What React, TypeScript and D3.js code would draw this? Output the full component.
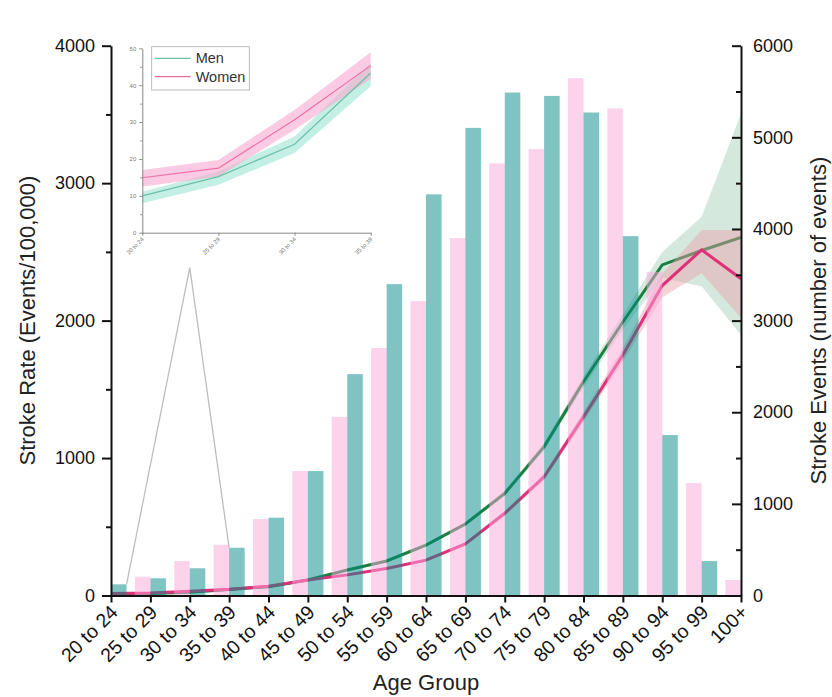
import { useEffect, useRef } from "react";
import * as d3 from "d3";

const ageGroups = [
  "20 to 24", "25 to 29", "30 to 34", "35 to 39", "40 to 44", "45 to 49",
  "50 to 54", "55 to 59", "60 to 64", "65 to 69", "70 to 74", "75 to 79",
  "80 to 84", "85 to 89", "90 to 94", "95 to 99", "100+",
];

// stroke events (right axis)
const menEvents = [122, 188, 297, 521, 849, 1358, 2416, 3398, 4378, 5103, 5489, 5452, 5271, 3922, 1751, 376, 60];
const womenEvents = [150, 205, 376, 554, 834, 1358, 1950, 2700, 3213, 3900, 4715, 4871, 5645, 5315, 3532, 1227, 169];

// stroke rate per 100,000 (left axis) with confidence band
const menRate = [10, 15.2, 24, 43.3, 64, 113, 185, 251, 367, 520, 743, 1083, 1555, 1990, 2405, 2510, 2605];
const menRateLow = [8, 13, 21.6, 39.7, 60, 107, 177, 242, 355, 505, 722, 1055, 1515, 1935, 2310, 2250, 1895];
const menRateHigh = [11.1, 16.6, 26.1, 46, 68, 119, 193, 260, 379, 535, 764, 1111, 1595, 2045, 2500, 2755, 3507];
const womenRate = [14.9, 17.5, 30.6, 45.3, 68, 113, 150, 197, 257, 375, 598, 864, 1300, 1750, 2255, 2515, 2305];
const womenRateLow = [12.5, 15.2, 27.9, 41.7, 63, 106, 142, 188, 247, 362, 580, 840, 1265, 1700, 2170, 2345, 2020];
const womenRateHigh = [17, 19.7, 33.3, 48.9, 73, 120, 158, 206, 267, 388, 616, 888, 1335, 1800, 2340, 2660, 2660];

const rateTicks = [0, 1000, 2000, 3000, 4000];
const rateMinor = [500, 1500, 2500, 3500];
const eventTicks = [0, 1000, 2000, 3000, 4000, 5000, 6000];
const eventMinor = [500, 1500, 2500, 3500, 4500, 5500];
const insetTicks = [0, 10, 20, 30, 40, 50];
const insetMinor = [5, 15, 25, 35, 45];
const seriesNames = ["Men", "Women"];

const FONT = "Arial, 'Liberation Sans', sans-serif";

const App = () => {
  const chartRef = useRef<SVGSVGElement>(null);

  useEffect(() => {
    const svg = d3.select(chartRef.current);
    svg.selectAll("*").remove();

    const left = 111, right = 741, top = 45.7, bottom = 595.5;

    const x = d3.scalePoint<string>().domain(ageGroups).range([left, right]);
    const yL = d3.scaleLinear().domain([0, 4000]).range([bottom, top]);
    const yR = d3.scaleLinear().domain([0, 6000]).range([bottom, top]);
    const barW = x.step() * 0.395;
    const idx = ageGroups.map((_, i) => i);
    const px = (i: number) => x(ageGroups[i]) as number;
    const fmt = d3.format("d");

    svg.append("defs").append("clipPath").attr("id", "plotClip")
      .append("rect").attr("x", left).attr("y", 0).attr("width", right - left).attr("height", bottom);

    const plot = svg.append("g").attr("clip-path", "url(#plotClip)");

    const band = (lo: number[], hi: number[]) =>
      d3.area<number>().x(px).y0((i) => yL(lo[i])).y1((i) => yL(hi[i]));
    const line = (v: number[]) => d3.line<number>().x(px).y((i) => yL(v[i]));

    // men band + line, then women band + line
    plot.append("path").attr("d", band(menRateLow, menRateHigh)(idx))
      .attr("fill", "#2e8b57").attr("fill-opacity", 0.2);
    plot.append("path").attr("d", line(menRate)(idx))
      .attr("fill", "none").attr("stroke", "#1a7f3f").attr("stroke-width", 3);
    plot.append("path").attr("d", band(womenRateLow, womenRateHigh)(idx))
      .attr("fill", "#e8a0a8").attr("fill-opacity", 0.45);
    plot.append("path").attr("d", line(womenRate)(idx))
      .attr("fill", "none").attr("stroke", "#e0307a").attr("stroke-width", 3);

    // bars drawn semi-transparent on top
    plot.append("g").selectAll("rect").data(idx).join("rect")
      .attr("x", (i) => px(i) - barW)
      .attr("y", (i) => yR(womenEvents[i]))
      .attr("width", barW)
      .attr("height", (i) => yR(0) - yR(womenEvents[i]))
      .attr("fill", "#fba7d9").attr("fill-opacity", 0.5);
    plot.append("g").selectAll("rect").data(idx).join("rect")
      .attr("x", (i) => px(i))
      .attr("y", (i) => yR(menEvents[i]))
      .attr("width", barW)
      .attr("height", (i) => yR(0) - yR(menEvents[i]))
      .attr("fill", "#008985").attr("fill-opacity", 0.5);

    // inset scales
    const insetGroups = ageGroups.slice(0, 4);
    const ix = d3.scalePoint<string>().domain(insetGroups).range([142.3, 370.7]);
    const iy = d3.scaleLinear().domain([0, 50]).range([232.7, 48.3]);

    // callout lines from bars to inset
    const apex: [number, number] = [px(2), iy(0) + 35];
    svg.append("path")
      .attr("d", d3.line()([
        [px(0) + barW, yR(menEvents[0])],
        apex,
        [px(3), yR(menEvents[3])],
      ]))
      .attr("fill", "none").attr("stroke", "#bdbdbd").attr("stroke-width", 1.3);

    const styleAxis = (g: d3.Selection<SVGGElement, unknown, null, undefined>) => {
      g.attr("font-family", FONT).attr("font-size", 18);
      g.selectAll("line").attr("stroke", "#111").attr("stroke-width", 2);
      g.select(".domain").attr("stroke", "#111").attr("stroke-width", 2);
      g.selectAll("text").attr("fill", "#111");
    };

    // left axis
    svg.append("g").attr("transform", `translate(${left},0)`)
      .call(d3.axisLeft(yL).tickValues(rateTicks).tickFormat(fmt).tickSize(9).tickPadding(7).tickSizeOuter(0))
      .call(styleAxis);
    svg.append("g").attr("transform", `translate(${left},0)`)
      .call(d3.axisLeft(yL).tickValues(rateMinor).tickSize(5).tickFormat(() => ""))
      .call(styleAxis)
      .call((g) => g.select(".domain").remove());

    // right axis, ticks pointing inward
    svg.append("g").attr("transform", `translate(${right},0)`)
      .call(d3.axisRight(yR).tickValues(eventTicks).tickFormat(fmt).tickSize(-9).tickPadding(12).tickSizeOuter(0))
      .call(styleAxis);
    svg.append("g").attr("transform", `translate(${right},0)`)
      .call(d3.axisRight(yR).tickValues(eventMinor).tickSize(-5).tickFormat(() => ""))
      .call(styleAxis)
      .call((g) => g.select(".domain").remove());

    // bottom axis
    svg.append("g").attr("transform", `translate(0,${bottom})`)
      .call(d3.axisBottom(x).tickSize(7).tickFormat(() => "").tickSizeOuter(0))
      .call(styleAxis);
    svg.append("g").selectAll("text").data(ageGroups).join("text")
      .attr("transform", (d) => `translate(${(x(d) as number) + 8},${bottom + 18}) rotate(-45)`)
      .attr("text-anchor", "end")
      .attr("font-family", FONT).attr("font-size", 19.5).attr("fill", "#111")
      .text((d) => d);

    // axis titles
    const title = (t: string, tr: string) =>
      svg.append("text").attr("transform", tr).attr("text-anchor", "middle")
        .attr("font-family", FONT).attr("font-size", 22).attr("fill", "#222").text(t);
    title("Stroke Rate (Events/100,000)", `translate(35,${(top + bottom) / 2}) rotate(-90)`);
    title("Stroke Events (number of events)", `translate(826,${(top + bottom) / 2}) rotate(-90)`);
    title("Age Group", `translate(${(left + right) / 2},690)`);

    // ---- inset ----
    const inset = svg.append("g");
    const ii = insetGroups.map((_, i) => i);
    const ipx = (i: number) => ix(insetGroups[i]) as number;
    const iband = (lo: number[], hi: number[]) =>
      d3.area<number>().x(ipx).y0((i) => iy(lo[i])).y1((i) => iy(hi[i]));
    const iline = (v: number[]) => d3.line<number>().x(ipx).y((i) => iy(v[i]));

    inset.append("path").attr("d", iband(menRateLow, menRateHigh)(ii)).attr("fill", "#c4efe4");
    inset.append("path").attr("d", iband(womenRateLow, womenRateHigh)(ii))
      .attr("fill", "#f6a9cf").attr("fill-opacity", 0.6);
    inset.append("path").attr("d", iline(menRate)(ii))
      .attr("fill", "none").attr("stroke", "#6dbfa8").attr("stroke-width", 1.2);
    inset.append("path").attr("d", iline(womenRate)(ii))
      .attr("fill", "none").attr("stroke", "#ef6fa2").attr("stroke-width", 1.2);

    const styleInset = (g: d3.Selection<SVGGElement, unknown, null, undefined>) => {
      g.attr("font-family", FONT).attr("font-size", 6);
      g.selectAll("line").attr("stroke", "#888");
      g.select(".domain").attr("stroke", "#888");
      g.selectAll("text").attr("fill", "#777");
    };
    inset.append("g").attr("transform", `translate(${ix.range()[0]},0)`)
      .call(d3.axisLeft(iy).tickValues(insetTicks).tickSize(3).tickPadding(3).tickSizeOuter(0))
      .call(styleInset);
    inset.append("g").attr("transform", `translate(${ix.range()[0]},0)`)
      .call(d3.axisLeft(iy).tickValues(insetMinor).tickSize(2).tickFormat(() => ""))
      .call(styleInset)
      .call((g) => g.select(".domain").remove());
    inset.append("g").attr("transform", `translate(0,${iy(0)})`)
      .call(d3.axisBottom(ix).tickSize(3).tickFormat(() => "").tickSizeOuter(0))
      .call(styleInset);
    inset.append("g").selectAll("text").data(insetGroups).join("text")
      .attr("transform", (d) => `translate(${(ix(d) as number) + 2},${iy(0) + 7}) rotate(-45)`)
      .attr("text-anchor", "end")
      .attr("font-family", FONT).attr("font-size", 6).attr("fill", "#777")
      .text((d) => d);

    // legend
    const lg = inset.append("g").attr("transform", "translate(151.7,46.7)");
    lg.append("rect").attr("width", 97.6).attr("height", 43.3)
      .attr("fill", "#fff").attr("stroke", "#aaa").attr("stroke-width", 0.8);
    const legendColors = ["#6dbfa8", "#ef6fa2"];
    seriesNames.forEach((name, i) => {
      const yy = 11.6 + i * 18.4;
      lg.append("line").attr("x1", 3).attr("x2", 39).attr("y1", yy).attr("y2", yy)
        .attr("stroke", legendColors[i]).attr("stroke-width", 1.2);
      lg.append("text").attr("x", 44).attr("y", yy).attr("dy", "0.35em")
        .attr("font-family", FONT).attr("font-size", 14.5).attr("fill", "#333").text(name);
    });
  }, []);

  return (
    <svg
      ref={chartRef}
      width={832}
      height={697}
      style={{ position: "absolute", left: 0, top: 0, background: "#fff" }}
    ></svg>
  );
};

export default App;
